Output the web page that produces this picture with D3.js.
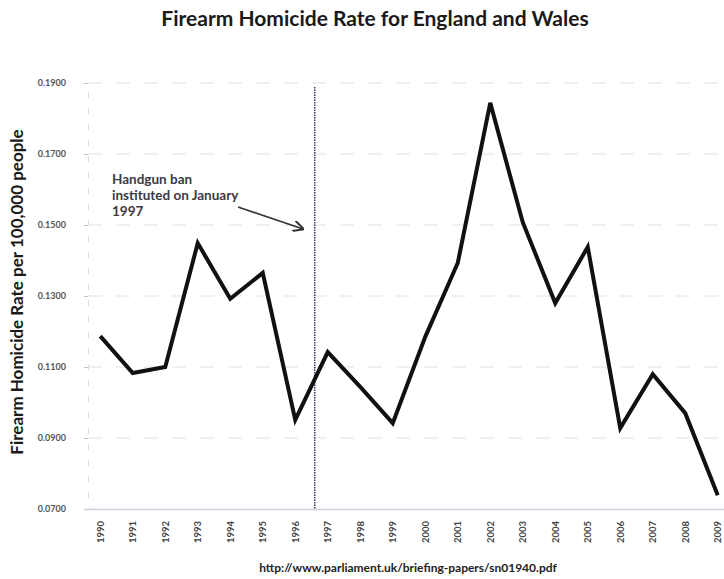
<!DOCTYPE html>
<html>
<head>
<meta charset="utf-8">
<script src="https://cdn.jsdelivr.net/npm/d3@7"></script>
<style>
  body { margin: 0; background: #fff; }
  svg { display: block; font-family: Lato, "Open Sans", sans-serif; }
</style>
</head>
<body>
<svg id="chart" width="724" height="579"></svg>
<script>
// Firearm homicide rate per 100,000 people, England and Wales
const years = [1990, 1991, 1992, 1993, 1994, 1995, 1996, 1997, 1998, 1999,
               2000, 2001, 2002, 2003, 2004, 2005, 2006, 2007, 2008, 2009];
const rates = [0.1187, 0.1083, 0.1100, 0.1449, 0.1292, 0.1365, 0.0951, 0.1142, 0.1044, 0.0942,
               0.1185, 0.1393, 0.1844, 0.1508, 0.1280, 0.1438, 0.0928, 0.1080, 0.0970, 0.0739];
const yTicks = [0.07, 0.09, 0.11, 0.13, 0.15, 0.17, 0.19];
const banYear = 1996.6; // handgun ban line sits between 1996 and 1997
const noteLines = ['Handgun ban', 'instituted on January', '1997'];

const svg = d3.select('#chart');
const margin = { top: 83, right: -10, bottom: 70, left: 84 };
const W = 724, H = 579;

const x = d3.scaleLinear()
    .domain([years[0] - 0.5, years[years.length - 1] + 0.5])
    .range([margin.left, W - margin.right]);
const y = d3.scaleLinear()
    .domain([0.07, 0.19])
    .range([H - margin.bottom, margin.top]);

// Title
svg.append('text')
    .attr('x', 375).attr('y', 26)
    .attr('text-anchor', 'middle')
    .attr('font-size', 21).attr('font-weight', 700)
    .attr('fill', '#1a1a1a')
    .text('Firearm Homicide Rate for England and Wales');

// Gridlines (faint, dashed like the scan)
svg.append('g')
    .selectAll('line')
    .data(yTicks.slice(1))
    .join('line')
    .attr('x1', margin.left + 4).attr('x2', W)
    .attr('y1', d => y(d)).attr('y2', d => y(d))
    .attr('stroke', '#e2e2e6')
    .attr('stroke-width', 1)
    .attr('stroke-dasharray', '14,14');

// Y axis
const yAxis = svg.append('g')
    .attr('transform', `translate(${margin.left + 4},0)`)
    .call(d3.axisLeft(y).tickValues(yTicks).tickFormat(d3.format('.4f')).tickSize(4).tickPadding(18));
yAxis.select('.domain').attr('stroke', '#e0e0e0').attr('stroke-dasharray', '6,10');
yAxis.selectAll('.tick line').attr('stroke', '#c4c4c4');
yAxis.selectAll('.tick text')
    .attr('font-size', 9).attr('font-weight', 700)
    .attr('fill', '#555')
    .attr('font-family', 'Lato, sans-serif');

// X axis
const xAxis = svg.append('g')
    .attr('transform', `translate(0,${y(0.07)})`)
    .call(d3.axisBottom(x).tickValues(years).tickFormat(d3.format('d')).tickSize(0).tickPadding(0));
xAxis.select('.domain').attr('stroke', '#cfd0de').attr('stroke-width', 1.5);
xAxis.selectAll('.tick text')
    .attr('font-size', 9.5).attr('font-weight', 700)
    .attr('fill', '#444')
    .attr('font-family', 'Lato, sans-serif')
    .attr('text-anchor', 'end')
    .attr('transform', 'translate(0,12) rotate(-90)')
    .attr('dx', 0).attr('dy', '0.32em')
    .attr('x', 0).attr('y', 0);

// Y axis title
svg.append('text')
    .attr('transform', `translate(23,${(y(0.07) + y(0.19)) / 2 - 4}) rotate(-90)`)
    .attr('text-anchor', 'middle')
    .attr('font-size', 17).attr('font-weight', 700)
    .attr('fill', '#1a1a1a')
    .text('Firearm Homicide Rate per 100,000 people');

// Handgun ban marker
svg.append('line')
    .attr('x1', x(banYear)).attr('x2', x(banYear))
    .attr('y1', y(0.19) + 4).attr('y2', y(0.07))
    .attr('stroke', '#2a2d5a')
    .attr('stroke-width', 1.4)
    .attr('stroke-dasharray', '1.5,1');

// Data line
const line = d3.line()
    .x((d, i) => x(years[i]))
    .y(d => y(d));

svg.append('path')
    .datum(rates)
    .attr('d', line)
    .attr('fill', 'none')
    .attr('stroke', '#111')
    .attr('stroke-width', 4)
    .attr('stroke-linejoin', 'miter');

// Annotation
svg.append('defs').append('marker')
    .attr('id', 'arrow')
    .attr('viewBox', '0 0 10 10')
    .attr('refX', 9).attr('refY', 5)
    .attr('markerWidth', 7).attr('markerHeight', 7)
    .attr('orient', 'auto')
    .append('path')
    .attr('d', 'M0,0 L10,5 L0,10')
    .attr('fill', 'none')
    .attr('stroke', '#333')
    .attr('stroke-width', 1.8);

svg.append('text')
    .attr('x', 112).attr('y', 184)
    .attr('font-size', 13.5).attr('font-weight', 700)
    .attr('fill', '#3a3a44')
    .selectAll('tspan')
    .data(noteLines)
    .join('tspan')
    .attr('x', 112)
    .attr('dy', (d, i) => i === 0 ? 0 : 16)
    .text(d => d);

svg.append('line')
    .attr('x1', 238).attr('y1', 207)
    .attr('x2', 303).attr('y2', 229)
    .attr('stroke', '#333')
    .attr('stroke-width', 1.6)
    .attr('marker-end', 'url(#arrow)');

// Source
svg.append('text')
    .attr('x', 408).attr('y', 572)
    .attr('text-anchor', 'middle')
    .attr('font-size', 12).attr('font-weight', 700)
    .attr('fill', '#222')
    .text('http://www.parliament.uk/briefing-papers/sn01940.pdf');
</script>
</body>
</html>
